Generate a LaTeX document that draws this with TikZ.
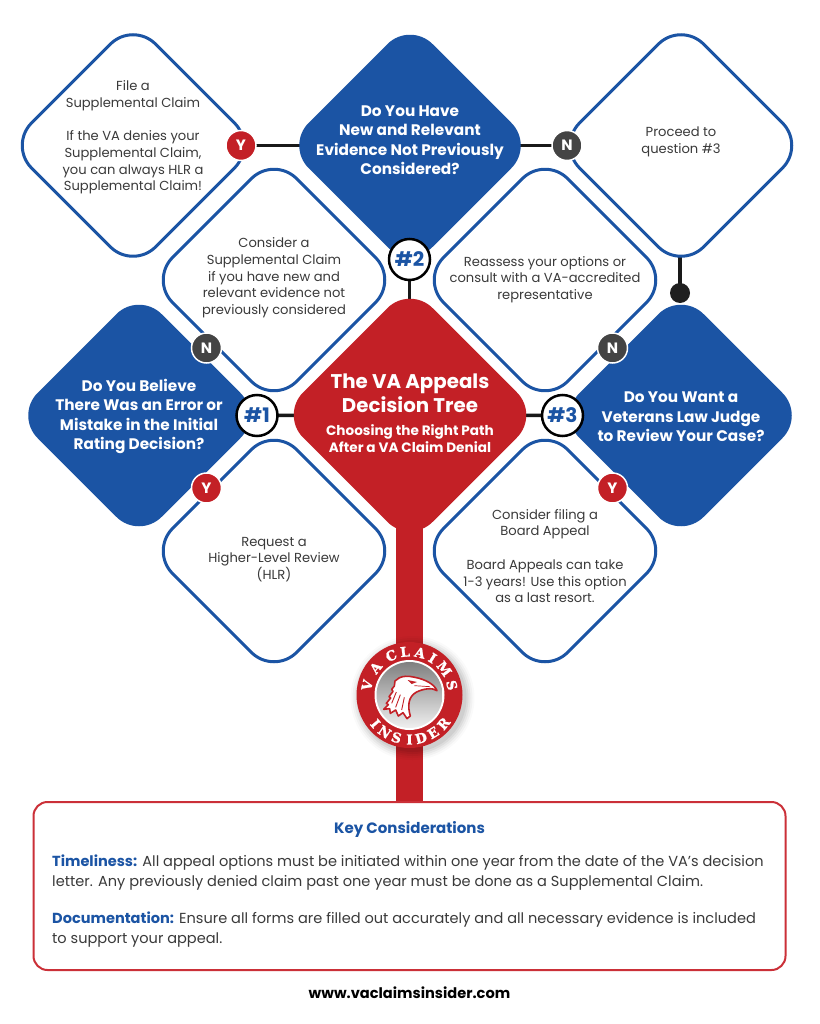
\documentclass[tikz,border=0pt]{standalone}
\usepackage{fontspec}
\setmainfont{Poppins}
\newfontfamily\slabfont{DejaVu Serif}[FakeBold=1.5]
\usetikzlibrary{shapes.geometric,backgrounds,calc}
\definecolor{vablue}{HTML}{1B54A4}
\definecolor{vared}{HTML}{C32026}
\definecolor{vagrey}{HTML}{444444}
\definecolor{vatext}{HTML}{3A3A3A}
\definecolor{vabox}{HTML}{CB3038}
\tikzset{
 dia/.style={diamond,shape aspect=1,inner sep=0pt,outer sep=0pt,minimum width=#1,minimum height=#1,rounded corners=32pt},
 outlinedia/.style={dia=248pt,draw=vablue,line width=3pt,fill=white},
 bluedia/.style={dia=248pt,fill=vablue},
 reddia/.style={dia=259pt,fill=vared},
 bodytxt/.style={align=center,inner sep=0pt,text=vatext,font=\fontsize{13.1}{16.7}\selectfont},
 asktxt/.style={align=center,inner sep=0pt,text=white,font=\fontsize{15.3}{19.5}\selectfont\bfseries},
 conn/.style={draw=black!90,line width=3.5pt},
 badge/.style={circle,inner sep=0pt,minimum size=30pt,draw=white,line width=1.5pt,text=white,font=\fontsize{15}{15}\selectfont\bfseries},
 yes/.style={badge,fill=vared},
 no/.style={badge,fill=vagrey},
 numb/.style={circle,inner sep=0pt,minimum size=41pt,fill=white,draw=black,line width=2.5pt,text=vablue,font=\fontsize{20}{20}\selectfont\bfseries},
 logoletter/.style={inner sep=0pt,text=white,font=\slabfont\bfseries\fontsize{13.5}{13.5}\selectfont},
}
\begin{document}
\begin{tikzpicture}[x=1pt,y=-1pt]
\useasboundingbox (0,0) rectangle (819,1024);
% diamonds
\node[outlinedia] (d1) at (133,145.5) {};
\node[bluedia] (d2) at (410,145.5) {};
\node[outlinedia] (d3) at (681,145.5) {};
\node[outlinedia] (d4) at (274,280) {};
\node[outlinedia] (d5) at (545,280) {};
\node[bluedia] (d6) at (139,415.5) {};
\node[reddia] (d7) at (410,415) {};
\node[bluedia] (d8) at (681,415.5) {};
\node[outlinedia] (d9) at (274,551) {};
\node[outlinedia] (d10) at (545,551) {};
% texts
\node[bodytxt] (t1) at (133,137.5) {File a\\Supplemental Claim\\[16.7pt]If the VA denies your\\Supplemental Claim,\\you can always HLR a\\Supplemental Claim!};
\node[asktxt] (t2) at (410,140) {Do You Have\\New and Relevant\\Evidence Not Previously\\Considered?};
\node[bodytxt] (t3) at (681,142) {Proceed to\\question \#3};
\node[bodytxt] (t4) at (274,278) {Consider a\\Supplemental Claim\\if you have new and\\relevant evidence not\\previously considered};
\node[bodytxt] (t5) at (545,279.5) {Reassess your options or\\consult with a VA-accredited\\representative};
\node[asktxt] (t6) at (139,416.5) {Do You Believe\\There Was an Error or\\Mistake in the Initial\\Rating Decision?};
\node[align=center,inner sep=0pt,text=white,font=\fontsize{19.8}{24.5}\selectfont\bfseries] (t7) at (410,393) {The VA Appeals\\Decision Tree};
\node[align=center,inner sep=0pt,text=white,font=\fontsize{13.6}{17}\selectfont\bfseries] (t7b) at (410,439) {Choosing the Right Path\\After a VA Claim Denial};
\node[asktxt] (t8) at (681,417) {Do You Want a\\Veterans Law Judge\\to Review Your Case?};
\node[bodytxt] (t9) at (274,559.5) {Request a\\Higher-Level Review\\(HLR)};
\node[bodytxt] (t10) at (545,556) {Consider filing a\\Board Appeal\\[16.7pt]Board Appeals can take\\1-3 years! Use this option\\as a last resort.};
% key box
\node[draw=vabox,line width=2pt,fill=white,rounded corners=14pt,minimum width=752pt,minimum height=168pt,inner sep=0pt,outer sep=0pt] (box) at (409.5,886) {};
\node[inner sep=0pt,text=vablue,font=\fontsize{15}{18}\selectfont\bfseries] (keyt) at (409.5,829) {Key Considerations};
\node[anchor=west,inner sep=0pt,align=left,text=vatext,font=\fontsize{14.55}{20}\selectfont] (k1) at (52,873) {{\color{vablue}\bfseries Timeliness:} All appeal options must be initiated within one year from the date of the VA’s decision\\letter. Any previously denied claim past one year must be done as a Supplemental Claim.};
\node[anchor=west,inner sep=0pt,align=left,text=vatext,font=\fontsize{14.55}{20}\selectfont] (k2) at (52,930) {{\color{vablue}\bfseries Documentation:} Ensure all forms are filled out accurately and all necessary evidence is included\\to support your appeal.};
\node[inner sep=0pt,text=black,font=\fontsize{14.6}{18}\selectfont\bfseries] (web) at (409.5,993) {www.vaclaimsinsider.com};
% badges
\node[yes] (y1) at (241,145.5) {Y};
\node[no] (n1) at (567,145.5) {N};
\node[no] (n2) at (206.5,348) {N};
\node[no] (n3) at (612.5,348) {N};
\node[yes] (y2) at (206.5,488) {Y};
\node[yes] (y3) at (612.5,488) {Y};
\node[numb] (h1) at (257,415.5) {\#1};
\node[numb] (h2) at (409.5,259.5) {\#2};
\node[numb] (h3) at (562.5,415.5) {\#3};
\node[circle,inner sep=0pt,minimum size=20pt,fill=black!88] (dot) at (680,293) {};
% logo
\coordinate (lc) at (409.5,695);
\foreach \r/\o in {62/.02,60/.03,58/.04,56/.05,54/.06}{
  \fill[black,opacity=\o] ($(lc)+(3pt,-3pt)$) circle[radius=\r pt];
}
\node[circle,inner sep=0pt,minimum size=106pt,fill=vared] (logo) at (lc) {};
\fill[white] (lc) circle[radius=35pt];
\shade[top color=black!50,middle color=white,bottom color=black!6] (lc) circle[radius=33pt];
\foreach \ch/\a/\i in {V/167/1,A/141/2,C/115/3,L/96/4,A/76/5,I/58/6,M/37/7,S/13/8}{
  \pgfmathsetmacro{\rot}{\a-90}
  \node[logoletter,rotate=\rot] (top\i) at ($(lc)+(\a:43.5pt)$) {\ch};
}
\foreach \ch/\a/\i in {I/220/1,N/236/2,S/253/3,I/270/4,D/285/5,E/302/6,R/320/7}{
  \pgfmathsetmacro{\rot}{\a-270}
  \node[logoletter,rotate=\rot] (bot\i) at ($(lc)+(\a:44.5pt)$) {\ch};
}
\begin{scope}[shift={(375,660)},xscale=.3333,yscale=.3333]
\draw[vared,line width=1.6pt,fill=white,line join=round] (186,92) .. controls (178,72) and (150,58) .. (120,52) .. controls (100,47) and (82,48) .. (72,54) -- (60,63) -- (58,78) -- (50,88) -- (54,94) -- (42,110) -- (47,114) -- (34,130) -- (40,134) -- (26,148) -- (44,146) -- (46,160) -- (62,150) -- (70,168) -- (84,158) -- (96,176) -- (106,168) .. controls (98,140) and (98,110) .. (125,96) .. controls (145,86) and (172,82) .. (186,92) -- cycle;
\draw[vared,line width=.9pt] (64,96) -- (50,130);
\draw[vared,line width=.9pt] (76,104) -- (62,142);
\draw[vared,line width=.9pt] (88,112) -- (80,150);
\fill[vared] (98,60) -- (126,66) -- (110,72) -- cycle;
\draw[vared,line width=.7pt] (118,77) -- (165,80);
\end{scope}
% connectors and stem behind
\begin{pgfonlayer}{background}
\fill[white] (0,0) rectangle (819,1024);
\draw[conn] (y1.center) -- (d2.center);
\draw[conn] (d2.center) -- (n1.center);
\draw[conn] (h2.center) -- (h2.center |- d7.center);
\draw[conn] (h1.center) -- (d7.center);
\draw[conn] (h3.center) -- (d7.center);
\draw[conn] (d3.center -| dot.center) -- (dot.center);
\draw[draw=vared,line width=27pt] (logo.center |- d7.center) -- (logo.center |- box.north);
\end{pgfonlayer}
\end{tikzpicture}
\end{document}
